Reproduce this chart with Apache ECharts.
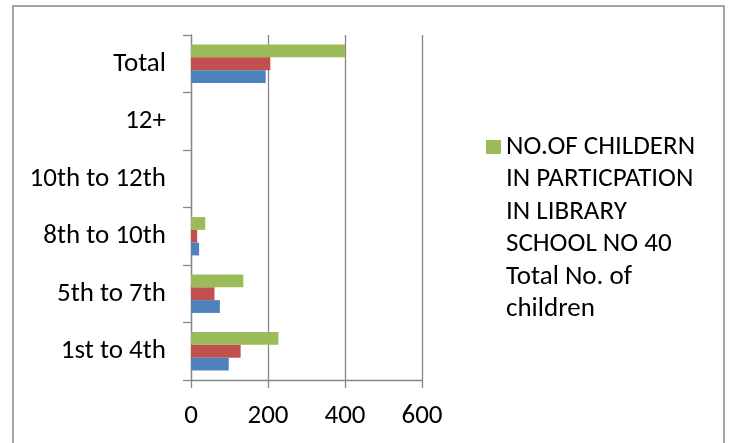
<!DOCTYPE html>
<html><head><meta charset="utf-8">
<script src="https://cdn.jsdelivr.net/npm/echarts@6/dist/echarts.min.js"></script>
<style>html,body{margin:0;padding:0;background:#fff}#c{width:733px;height:443px}</style>
</head><body><div id="c"></div>
<script>
const categories = ['1st to 4th', '5th to 7th', '8th to 10th', '10th to 12th', '12+', 'Total'];
const seriesBlue = [98, 75, 21, 0, 0, 194];
const seriesRed = [129, 61, 16, 0, 0, 206];
const seriesGreen = [227, 136, 37, 0, 0, 400];
const xTicks = [0, 200, 400, 600];
const greenName = 'NO.OF CHILDERN IN PARTICPATION IN LIBRARY SCHOOL NO 40 Total No. of children';
const legendLines = ['NO.OF CHILDERN', 'IN PARTICPATION', 'IN LIBRARY', 'SCHOOL NO 40', 'Total No. of', 'children'];

const FONT = 'Carlito, Lato, sans-serif';
const GRAY = '#878787';
const LH = 32.4;
const blockH = LH * legendLines.length;
const chart = echarts.init(document.getElementById('c'));
chart.setOption({
  animation: false,
  grid: { left: 191, right: 311, top: 35, bottom: 63, containLabel: false },
  graphic: [{
    type: 'rect', silent: true,
    shape: { x: 13, y: 6, width: 711, height: 460 },
    style: { fill: 'none', stroke: GRAY, lineWidth: 1.5 }
  }],
  legend: {
    data: [greenName],
    left: 486, top: 131, padding: 0,
    itemWidth: 15, itemHeight: blockH,
    icon: 'path://M0,9h15v14h-15z M0,0 M0,' + blockH.toFixed(1),
    formatter: () => legendLines.join('\n'),
    textStyle: { fontFamily: FONT, fontSize: 27, color: '#000', lineHeight: LH }
  },
  xAxis: {
    type: 'value', min: xTicks[0], max: xTicks[xTicks.length - 1], interval: 200,
    axisLine: { show: true, lineStyle: { color: GRAY, width: 1.3 } },
    axisTick: { show: true, length: 8, lineStyle: { color: GRAY, width: 1.3 } },
    splitLine: { show: true, lineStyle: { color: GRAY, width: 1.3 } },
    axisLabel: { fontFamily: FONT, fontSize: 27, color: '#000', margin: 23 }
  },
  yAxis: {
    type: 'category', data: categories,
    axisLine: { show: true, lineStyle: { color: GRAY, width: 1.3 } },
    axisTick: { show: true, length: 8, alignWithLabel: false, lineStyle: { color: GRAY, width: 1.3 } },
    axisLabel: { fontFamily: FONT, fontSize: 27, color: '#000', margin: 25 }
  },
  series: [
    { name: greenName, type: 'bar', data: seriesGreen, itemStyle: { color: '#9BBB59' }, barGap: '0%', barCategoryGap: '33.3%' },
    { name: 'Series 2', type: 'bar', data: seriesRed, itemStyle: { color: '#C0504D' }, barGap: '0%', barCategoryGap: '33.3%' },
    { name: 'Series 1', type: 'bar', data: seriesBlue, itemStyle: { color: '#4F81BD' }, barGap: '0%', barCategoryGap: '33.3%' }
  ]
});
</script></body></html>
